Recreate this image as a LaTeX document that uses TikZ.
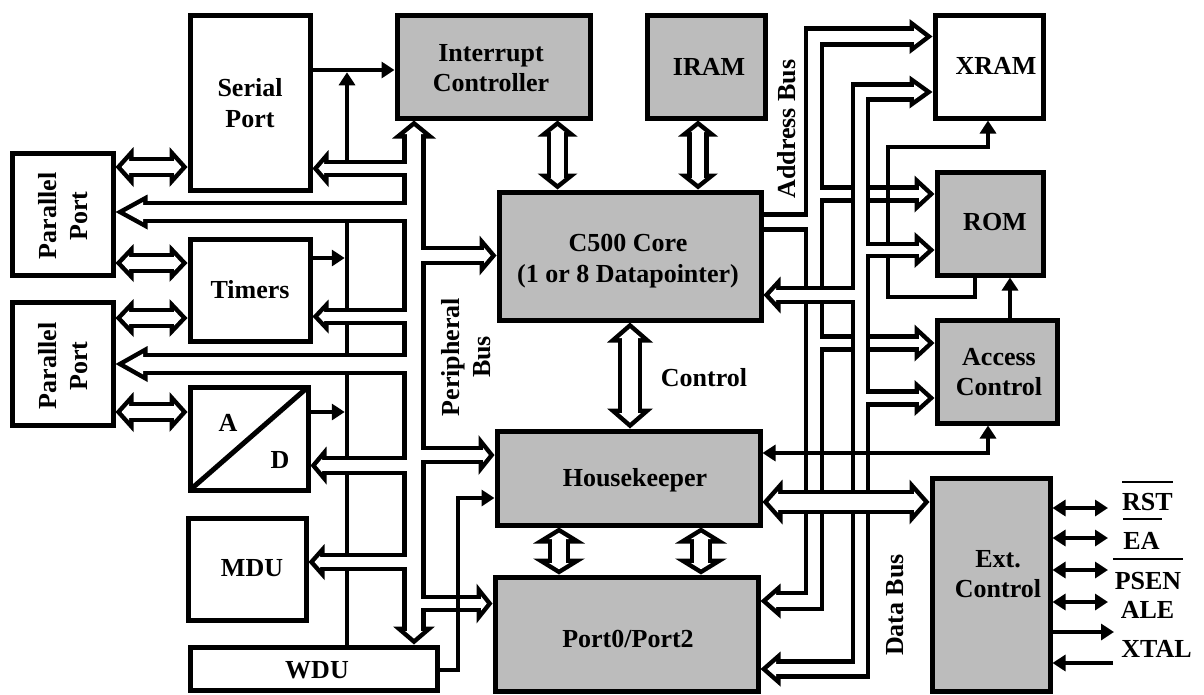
\documentclass[tikz,border=0pt]{standalone}
\usepackage{fontspec}
\setmainfont{Liberation Serif}
\usetikzlibrary{arrows.meta}
\definecolor{shade}{RGB}{188,188,188}
\newif\ifwhitepass
\newcommand\buslayer[1]{\whitepassfalse #1\whitepasstrue #1}
% #1 width between the two lines, #2 head length at start, #3 head length at end, #4 path
\newcommand\bseg[4]{%
  \ifwhitepass
    \draw[white,line width={(#1-4.5)*1pt},line join=miter,
      shorten <={max(#2-4.5,0)*1pt},shorten >={max(#3-4.5,0)*1pt}] #4;
  \else
    \draw[black,line width={(#1+4.5)*1pt},line join=miter,
      shorten <={max(#2-1,0)*1pt},shorten >={max(#3-1,0)*1pt}] #4;
  \fi}
% open bus arrow head: #1 tip, #2 direction, #3 length, #4 half width
\newcommand\bhead[4]{%
  \ifwhitepass
    \pgfmathsetmacro\bhA{4.5*veclen(#3,#4)/#4}%
    \pgfmathsetmacro\bhB{#3-4.5}%
    \pgfmathsetmacro\bhW{(\bhB-\bhA)*#4/#3}%
    \ifdim\bhA pt<\bhB pt
      \fill[white,shift={#1},rotate=#2] (-\bhA,0) -- (-\bhB,\bhW) -- (-\bhB,-\bhW) -- cycle;
    \fi
  \else
    \fill[black,shift={#1},rotate=#2] (0,0) -- (-#3,#4) -- (-#3,-#4) -- cycle;
  \fi}
\begin{document}
\begin{tikzpicture}[x=1pt,y=-1pt,
  box/.style={draw,line width=5pt,inner sep=0pt,outer sep=2.5pt,fill=white},
  gbox/.style={box,fill=shade},
  lbl/.style={font=\fontsize{26}{30.5}\selectfont\bfseries,align=center,inner sep=0pt},
  wire/.style={line width=4.5pt,line join=miter},
  over/.style={line width=2.5pt},
  >={Triangle[length=13pt,width=16pt]}]
\useasboundingbox (0,0) rectangle (1204,694);

% ---------- boxes ----------
\node[box,minimum width=120pt,minimum height=175pt] (ser) at (250,102.5) {};
\node[box,minimum width=101pt,minimum height=122pt] (pp1) at (62.5,214) {};
\node[box,minimum width=101pt,minimum height=123pt] (pp2) at (62.5,363.5) {};
\node[box,minimum width=120pt,minimum height=102pt] (tim) at (250,290) {};
\node[box,minimum width=118pt,minimum height=103pt] (ad) at (249,438.5) {};
\node[box,minimum width=118pt,minimum height=102pt] (mdu) at (247,569) {};
\node[box,minimum width=247pt,minimum height=43pt] (wdu) at (313.5,668.5) {};
\node[gbox,minimum width=193pt,minimum height=103pt] (ic) at (493.5,66.5) {};
\node[gbox,minimum width=118pt,minimum height=103pt] (iram) at (706,66.5) {};
\node[gbox,minimum width=262pt,minimum height=128pt] (core) at (630,256) {};
\node[gbox,minimum width=263pt,minimum height=94pt] (hk) at (628.5,478) {};
\node[gbox,minimum width=263pt,minimum height=114pt] (p02) at (626.5,634) {};
\node[box,minimum width=108pt,minimum height=103pt] (xram) at (989,66.5) {};
\node[gbox,minimum width=106pt,minimum height=103pt] (rom) at (990,223.5) {};
\node[gbox,minimum width=120pt,minimum height=103pt] (acc) at (997,371.5) {};
\node[gbox,minimum width=118pt,minimum height=213pt] (ext) at (991,584.5) {};
\draw[line width=5pt] (190,490) -- (308,387);

% ---------- thin lines under the peripheral bus ----------
\draw[wire,->] (ser.east |- 0,70) -- (ic.west |- 0,70);
\draw[wire] (wdu.north -| 347,0) -- (347,212);
\draw[wire,->] (347,168.5) -- (347,72.25);
\draw[wire,->] (tim.east |- 0,258) -- (344.75,258);
\draw[wire,->] (ad.east |- 0,412) -- (344.75,412);

% ---------- peripheral bus ----------
\buslayer{%
 \bseg{19}{18}{18}{(ic.south -| 414,0) -- (wdu.north -| 414,0)}%
 \bhead{(ic.south -| 414,0)}{90}{18}{22}%
 \bhead{(wdu.north -| 414,0)}{270}{18}{21}%
 \bseg{13}{0}{16}{(414,168.5) -- (ser.east |- 0,168.5)}%
 \bhead{(ser.east |- 0,168.5)}{180}{16}{18.5}%
 \bseg{18}{0}{32}{(414,212) -- (pp1.east |- 0,212)}%
 \bhead{(pp1.east |- 0,212)}{180}{32}{17.5}%
 \bseg{13}{0}{16}{(414,316.5) -- (tim.east |- 0,316.5)}%
 \bhead{(tim.east |- 0,316.5)}{180}{16}{17}%
 \bseg{18}{0}{32}{(414,364) -- (pp2.east |- 0,364)}%
 \bhead{(pp2.east |- 0,364)}{180}{32}{18}%
 \bseg{15}{0}{16}{(414,465.5) -- (ad.east |- 0,465.5)}%
 \bhead{(ad.east |- 0,465.5)}{180}{16}{19}%
 \bseg{14}{0}{16}{(414,562) -- (mdu.east |- 0,562)}%
 \bhead{(mdu.east |- 0,562)}{180}{16}{18}%
 \bseg{15}{0}{17}{(414,255.5) -- (core.west |- 0,255.5)}%
 \bhead{(core.west |- 0,255.5)}{0}{17}{20}%
 \bseg{14}{0}{16}{(414,455) -- (hk.west |- 0,455)}%
 \bhead{(hk.west |- 0,455)}{0}{16}{20}%
 \bseg{13}{0}{16}{(414,603.5) -- (p02.west |- 0,603.5)}%
 \bhead{(p02.west |- 0,603.5)}{0}{16}{20}%
}
\draw[wire,->] (wdu.east |- 0,670) -- (458,670) -- (458,498) -- (hk.west |- 0,498);

% ---------- double bus arrows ----------
\buslayer{%
 \bseg{16}{18}{18}{(pp1.east |- 0,167) -- (ser.west |- 0,167)}%
 \bhead{(pp1.east |- 0,167)}{180}{18}{20}\bhead{(ser.west |- 0,167)}{0}{18}{20}%
 \bseg{16}{18}{18}{(pp1.east |- 0,263) -- (tim.west |- 0,263)}%
 \bhead{(pp1.east |- 0,263)}{180}{18}{19}\bhead{(tim.west |- 0,263)}{0}{18}{19}%
 \bseg{16}{18}{18}{(pp2.east |- 0,318) -- (tim.west |- 0,318)}%
 \bhead{(pp2.east |- 0,318)}{180}{18}{19}\bhead{(tim.west |- 0,318)}{0}{18}{19}%
 \bseg{16}{18}{18}{(pp2.east |- 0,412) -- (ad.west |- 0,412)}%
 \bhead{(pp2.east |- 0,412)}{180}{18}{20}\bhead{(ad.west |- 0,412)}{0}{18}{20}%
 \bseg{17}{16}{16}{(ic.south -| 557.5,0) -- (core.north -| 557.5,0)}%
 \bhead{(ic.south -| 557.5,0)}{90}{16}{20}\bhead{(core.north -| 557.5,0)}{270}{16}{20}%
 \bseg{17}{16}{16}{(iram.south -| 698,0) -- (core.north -| 698,0)}%
 \bhead{(iram.south -| 698,0)}{90}{16}{20}\bhead{(core.north -| 698,0)}{270}{16}{20}%
 \bseg{20}{20}{20}{(core.south -| 630,0) -- (hk.north -| 630,0)}%
 \bhead{(core.south -| 630,0)}{90}{20}{23}\bhead{(hk.north -| 630,0)}{270}{20}{23}%
 \bseg{18}{16}{16}{(hk.south -| 559,0) -- (p02.north -| 559,0)}%
 \bhead{(hk.south -| 559,0)}{90}{16}{26}\bhead{(p02.north -| 559,0)}{270}{16}{26}%
 \bseg{18}{16}{16}{(hk.south -| 701,0) -- (p02.north -| 701,0)}%
 \bhead{(hk.south -| 701,0)}{90}{16}{26}\bhead{(p02.north -| 701,0)}{270}{16}{26}%
}

% ---------- address bus ----------
\buslayer{%
 \bseg{16}{23}{20}{(xram.west |- 0,36.5) -- (814,36.5) -- (814,601) -- (p02.east |- 0,601)}%
 \bhead{(xram.west |- 0,36.5)}{0}{23}{17.5}%
 \bhead{(p02.east |- 0,601)}{180}{20}{17.5}%
 \bseg{15}{0}{0}{(core.east |- 0,222) -- (814,222)}%
 \bseg{13}{0}{20}{(814,194) -- (rom.west |- 0,194)}%
 \bhead{(rom.west |- 0,194)}{0}{20}{18.5}%
 \bseg{13}{0}{20}{(814,343) -- (acc.west |- 0,343)}%
 \bhead{(acc.west |- 0,343)}{0}{20}{18.5}%
}
\draw[wire,->] (rom.south -| 975,0) -- (975,297) -- (888,297) -- (888,147) -- (988,147) -- (xram.south -| 988,0);

% ---------- data bus ----------
\buslayer{%
 \bseg{15}{23}{20}{(xram.west |- 0,92) -- (860.5,92) -- (860.5,669) -- (p02.east |- 0,669)}%
 \bhead{(xram.west |- 0,92)}{0}{23}{16.5}%
 \bhead{(p02.east |- 0,669)}{180}{20}{17.5}%
 \bseg{14}{0}{17}{(860.5,295) -- (core.east |- 0,295)}%
 \bhead{(core.east |- 0,295)}{180}{17}{18.5}%
 \bseg{12}{0}{20}{(860.5,250) -- (rom.west |- 0,250)}%
 \bhead{(rom.west |- 0,250)}{0}{20}{18}%
 \bseg{13}{0}{20}{(860.5,398) -- (acc.west |- 0,398)}%
 \bhead{(acc.west |- 0,398)}{0}{20}{18}%
}

% ---------- housekeeper <-> ext. control ----------
\buslayer{%
 \bseg{20}{20}{20}{(hk.east |- 0,502) -- (ext.west |- 0,502)}%
 \bhead{(hk.east |- 0,502)}{180}{20}{22.5}%
 \bhead{(ext.west |- 0,502)}{0}{20}{22.5}%
}

\draw[wire,<->] (hk.east |- 0,453) -- (988,453) -- (acc.south -| 988,0);
\draw[wire,->] (acc.north -| 1010,0) -- (rom.south -| 1010,0);

% ---------- external pins ----------
\coordinate (prst) at (1108,508);
\coordinate (pea) at (1108,538);
\coordinate (ppsen) at (1108,570);
\coordinate (pale) at (1108,602);
\coordinate (pout) at (1114,632);
\coordinate (pxtal) at (1113,663);
\draw[wire,<->] (ext.east |- prst) -- (prst);
\draw[wire,<->] (ext.east |- pea) -- (pea);
\draw[wire,<->] (ext.east |- ppsen) -- (ppsen);
\draw[wire,<->] (ext.east |- pale) -- (pale);
\draw[wire,->] (ext.east |- pout) -- (pout);
\draw[wire,->] (pxtal) -- (ext.east |- pxtal);

% ---------- texts ----------
\node[lbl] (ser-t) at (250,103) {Serial\\Port};
\node[lbl,rotate=90] (pp1-t) at (63,216) {Parallel\\Port};
\node[lbl,rotate=90] (pp2-t) at (63,366) {Parallel\\Port};
\node[lbl] (tim-t) at (250,290) {Timers};
\node[lbl] (ad-a) at (228,423) {A};
\node[lbl] (ad-d) at (280,460) {D};
\node[lbl] (mdu-t) at (252,568) {MDU};
\node[lbl] (wdu-t) at (317,670) {WDU};
\node[lbl] (ic-t) at (491,68) {Interrupt\\Controller};
\node[lbl] (iram-t) at (709,67) {IRAM};
\node[lbl] (core-t) at (628,261) {C500 Core\\(1 or 8 Datapointer)};
\node[lbl] (ctl-t) at (704,378) {Control};
\node[lbl] (hk-t) at (635,480.5) {Housekeeper};
\node[lbl] (p02-t) at (628,639) {Port0/Port2};
\node[lbl] (xram-t) at (996,66) {XRAM};
\node[lbl] (rom-t) at (995,222) {ROM};
\node[lbl] (acc-t) at (999,372) {Access\\Control};
\node[lbl] (ext-t) at (998,574) {Ext.\\Control};
\node[lbl,rotate=90] (addr-t) at (787,129) {Address Bus};
\node[lbl,rotate=90] (data-t) at (895,605) {Data Bus};
\node[lbl,rotate=90] (per-t) at (466,357) {Peripheral\\Bus};
\node[lbl] (rst-t) at (1147.5,502.5) {RST};
\node[lbl] (ea-t) at (1141.5,541) {EA};
\node[lbl] (psen-t) at (1148,581) {PSEN};
\node[lbl] (ale-t) at (1147.5,610) {ALE};
\node[lbl] (xtal-t) at (1156.5,649) {XTAL};
\draw[over] (1122,482) -- (1173,482);
\draw[over] (1123,519) -- (1162,519);
\draw[over] (1113,559) -- (1183,559);
\end{tikzpicture}
\end{document}
